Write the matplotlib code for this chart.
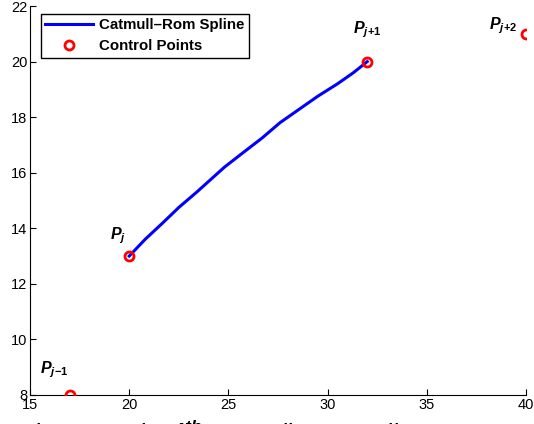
import matplotlib
matplotlib.use('Agg')
from matplotlib import pyplot as plt

plt.rcParams['font.family'] = ['Liberation Sans', 'DejaVu Sans']
plt.rcParams['mathtext.fontset'] = 'custom'
plt.rcParams['mathtext.it'] = 'Liberation Sans:italic:bold'
plt.rcParams['mathtext.rm'] = 'Liberation Sans:bold'
plt.rcParams['mathtext.bf'] = 'Liberation Sans:bold'

# control points P_{j-1} .. P_{j+2}
ctrl_x = [17, 20, 32, 40]
ctrl_y = [8, 13, 20, 21]
ctrl_labels = [r'$P_{j\!-\!1}$', r'$P_{j}$', r'$P_{j\!+\!1}$', r'$P_{j\!+\!2}$']

# spline segment between P_j and P_{j+1}
spline_x = [20.0, 20.8, 21.7, 22.5, 23.4, 24.1, 24.8, 25.7, 26.7, 27.6, 28.6, 29.5, 30.5, 31.3, 32.0]
spline_y = [13.0, 13.6, 14.2, 14.75, 15.3, 15.75, 16.2, 16.7, 17.25, 17.8, 18.3, 18.75, 19.2, 19.6, 20.0]

xticks = [15, 20, 25, 30, 35, 40]
yticks = [8, 10, 12, 14, 16, 18, 20, 22]

fig = plt.figure(figsize=(5.34, 4.24), dpi=100)
ax = fig.add_axes([30 / 534, 29 / 424, 496 / 534, 389 / 424])

ax.plot(spline_x, spline_y, color='#0000ff', lw=2.2, label='Catmull\u2013Rom Spline', zorder=3)
ax.plot(ctrl_x, ctrl_y, 'o', ls='none', mfc='none', mec='#ff0000', mew=2, ms=6.5,
        label='Control Points', zorder=4)

# label offsets (pixels) and alignment
offs = [(-1, 22), (-3, 17), (0, 28), (-8, 4)]
has = ['right', 'right', 'center', 'right']
for x, y, s, o, ha in zip(ctrl_x, ctrl_y, ctrl_labels, offs, has):
    ax.annotate(s, (x, y), xytext=o, textcoords='offset pixels', ha=ha, va='baseline', fontsize=11.5)

ax.set_xlim(15, 40)
ax.set_ylim(8, 22)
ax.set_xticks(xticks)
ax.set_yticks(yticks)
ax.tick_params(direction='in', length=4, labelsize=10.5, pad=2)
ax.spines['top'].set_visible(False)
ax.spines['right'].set_visible(False)

leg = ax.legend(loc='upper left', bbox_to_anchor=(10.7 / 496, 1 - 8 / 389), borderaxespad=0,
                prop={'weight': 'bold', 'size': 10.8}, fancybox=False, framealpha=1,
                edgecolor='black', borderpad=0.3, handlelength=3.2, handletextpad=0.4,
                labelspacing=0.45)
leg.get_frame().set_linewidth(1)

fig.text(20 / 534, -18.5 / 424, r'Figure 1: The $\mathit{i}^{th}$ Catmull-Rom spline', fontsize=18,
         va='baseline', ha='left')

fig.savefig('out.png', dpi=100)
